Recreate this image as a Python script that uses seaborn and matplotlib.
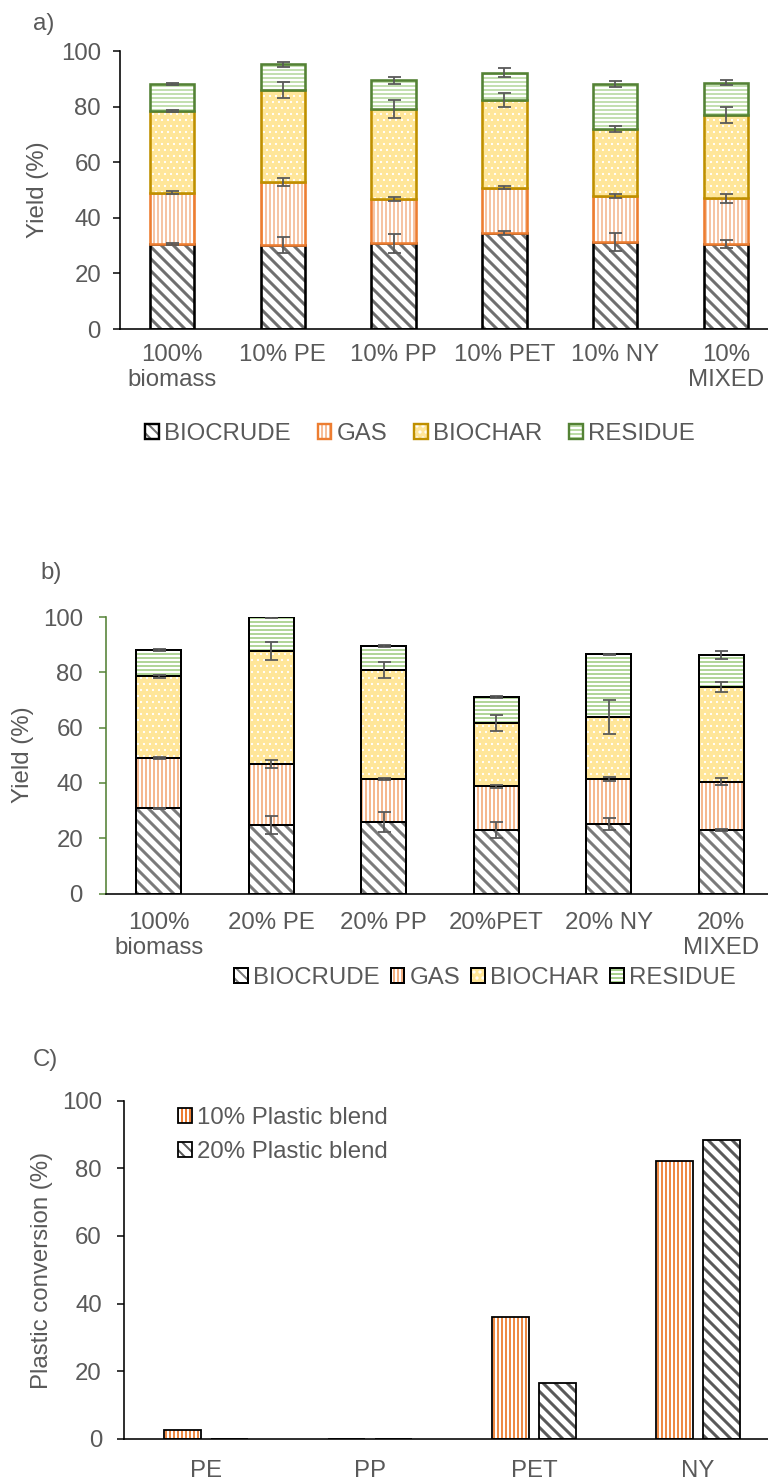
import matplotlib
matplotlib.use("Agg")
import matplotlib.pyplot as plt
import numpy as np
import pandas as pd
import seaborn as sns
from matplotlib.patches import Patch
from matplotlib.legend_handler import HandlerTuple

W, H, DPI = 768, 1481, 72
TXT = "#595959"
FS = 24

# ---------------- data ----------------
labels_10 = ["100%\nbiomass", "10% PE", "10% PP", "10% PET", "10% NY", "10%\nMIXED"]
labels_20 = ["100%\nbiomass", "20% PE", "20% PP", "20%PET", "20% NY", "20%\nMIXED"]
components = ["BIOCRUDE", "GAS", "BIOCHAR", "RESIDUE"]

# 10 % plastic blends: yield of each fraction (%)
biocrude_10 = [30.5, 30.2, 30.8, 34.6, 31.3, 30.5]
gas_10 = [18.5, 22.6, 16.1, 16.2, 16.5, 16.5]
biochar_10 = [29.4, 33.2, 32.3, 31.5, 24.3, 30.0]
residue_10 = [9.8, 9.3, 10.2, 9.9, 15.9, 11.6]
biocrude_10_err = [0.3, 3.0, 3.4, 0.8, 3.1, 1.4]
gas_10_err = [0.5, 1.4, 0.7, 0.6, 0.6, 1.5]
biochar_10_err = [0.5, 2.8, 3.2, 2.6, 1.1, 2.8]
residue_10_err = [0.3, 0.9, 1.3, 1.6, 1.1, 0.8]

# 20 % plastic blends
biocrude_20 = [30.8, 24.8, 25.9, 23.0, 25.2, 23.0]
gas_20 = [18.2, 22.0, 15.6, 15.8, 16.2, 17.5]
biochar_20 = [29.5, 40.9, 39.3, 22.9, 22.5, 34.2]
residue_20 = [9.6, 12.3, 8.7, 9.5, 22.6, 11.5]
biocrude_20_err = [0.3, 3.4, 3.6, 2.8, 2.3, 0.2]
gas_20_err = [0.4, 1.5, 0.3, 0.6, 0.6, 1.4]
biochar_20_err = [0.4, 3.1, 2.8, 2.9, 6.1, 1.7]
residue_20_err = [0.3, 0.2, 0.4, 0.4, 0.3, 1.4]

# plastic conversion (%)
plastics = ["PE", "PP", "PET", "NY"]
blends = ["10% Plastic blend", "20% Plastic blend"]
conv_10 = [2.7, 0.0, 36.0, 82.1]
conv_20 = [0.0, 0.0, 16.4, 88.5]

# ---------------- style ----------------
sns.set_theme(style="white")
plt.rcParams["font.family"] = ["Liberation Sans", "DejaVu Sans"]
plt.rcParams["hatch.linewidth"] = 2.0

DIAG = "\\\\"
styles_a = [
    dict(face="white", hatch=DIAG, hcolor="#6F6F6F", hlw=3.0, edge="black"),
    dict(face="white", hatch="|||", hcolor="#F6BE9A", hlw=1.8, edge="#ED7D31"),
    dict(face="#FFE699", hatch="..", hcolor="white", hlw=1.0, edge="#BF9000"),
    dict(face="white", hatch="---", hcolor="#BDDCA8", hlw=1.8, edge="#548235"),
]
styles_b = [
    dict(face="white", hatch=DIAG, hcolor="#7A7A7A", hlw=3.0, edge="black"),
    dict(face="white", hatch="|||", hcolor="#F4B183", hlw=1.8, edge="black"),
    dict(face="#FFE699", hatch="..", hcolor="white", hlw=1.0, edge="black"),
    dict(face="white", hatch="---", hcolor="#A9D18E", hlw=1.8, edge="black"),
]


def hatch_fill(p, st):
    p.set_facecolor(st["face"])
    p.set_edgecolor(st["hcolor"])
    p.set_linewidth(0)
    p.set_hatch(st["hatch"])
    if hasattr(p, "set_hatch_linewidth"):
        p.set_hatch_linewidth(st["hlw"])


def px_axes(fig, left, right, y0, y100):
    return fig.add_axes([left / W, 1 - y0 / H, (right - left) / W, (y0 - y100) / H])


def stacked(ax, cats, comps, errs, styles, outline_lw):
    bottom = np.zeros(len(cats))
    tops = []
    for vals, st in zip(comps, styles):
        vals = np.asarray(vals, dtype=float)
        n0 = len(ax.patches)
        sns.barplot(x=cats, y=vals, order=cats, bottom=bottom, color=st["face"],
                    saturation=1, width=0.4, errorbar=None, ax=ax)
        for p in ax.patches[n0:]:
            hatch_fill(p, st)
        sns.barplot(x=cats, y=vals, order=cats, bottom=bottom, color=st["edge"],
                    saturation=1, fill=False, linewidth=outline_lw, width=0.4,
                    errorbar=None, ax=ax)
        bottom = bottom + vals
        tops.append(bottom.copy())
    for top, e in zip(tops, errs):
        ax.errorbar(np.arange(len(cats)), top, yerr=e, fmt="none", ecolor=TXT,
                    elinewidth=1.8, capsize=6.5, capthick=1.8, zorder=6)


def style_axes(ax, spine_color, ypad, xpad):
    ax.set_ylim(0, 100)
    ax.set_yticks(range(0, 101, 20))
    ax.set_xlabel("")
    ax.set_ylabel("")
    for s in ("top", "right"):
        ax.spines[s].set_visible(False)
    ax.spines["bottom"].set_color("black")
    ax.spines["bottom"].set_linewidth(1.6)
    ax.spines["left"].set_color(spine_color)
    ax.spines["left"].set_linewidth(1.6)
    ax.tick_params(axis="y", direction="out", length=7, width=1.5, color=spine_color,
                   labelsize=FS, labelcolor=TXT, pad=ypad, left=True)
    ax.tick_params(axis="x", length=0, labelsize=FS, labelcolor=TXT, pad=xpad)


def legend_handles(styles, lw):
    hs = []
    for st in styles:
        fill = Patch(facecolor=st["face"], edgecolor=st["hcolor"], hatch=st["hatch"], linewidth=0)
        if hasattr(fill, "set_hatch_linewidth"):
            fill.set_hatch_linewidth(st["hlw"])
        edge = Patch(facecolor="none", edgecolor=st["edge"], linewidth=lw)
        hs.append((fill, edge))
    return hs


def add_legend(handles, labels, anchor, loc, **kw):
    fig.legend(handles, labels, handler_map={tuple: HandlerTuple(ndivide=1, pad=0)},
               loc=loc, bbox_to_anchor=anchor, frameon=False, fontsize=FS,
               labelcolor=TXT, handlelength=0.58, handleheight=0.58,
               handletextpad=0.21, borderpad=0, borderaxespad=0, **kw)


fig = plt.figure(figsize=(W / DPI, H / DPI), dpi=DPI, facecolor="white")

# ---------------- a) 10 % blends ----------------
ax_a = px_axes(fig, 120, 778, 329, 51)
stacked(ax_a, labels_10,
        [biocrude_10, gas_10, biochar_10, residue_10],
        [biocrude_10_err, gas_10_err, biochar_10_err, residue_10_err],
        styles_a, 2.6)
style_axes(ax_a, "black", 12, 15)
fig.text(38 / W, 1 - 190 / H, "Yield (%)", rotation=90, ha="center", va="center",
         fontsize=FS, color=TXT)
fig.text(33 / W, 1 - 30 / H, "a)", ha="left", va="baseline", fontsize=FS, color=TXT)
add_legend(legend_handles(styles_a, 2.4), components, (420 / W, 1 - 434 / H), "center",
           ncol=4, columnspacing=1.12)

# ---------------- b) 20 % blends ----------------
ax_b = px_axes(fig, 106, 774, 893.6, 617)
stacked(ax_b, labels_20,
        [biocrude_20, gas_20, biochar_20, residue_20],
        [biocrude_20_err, gas_20_err, biochar_20_err, residue_20_err],
        styles_b, 2.0)
style_axes(ax_b, "#548235", 16, 18)
fig.text(23 / W, 1 - 755 / H, "Yield (%)", rotation=90, ha="center", va="center",
         fontsize=FS, color=TXT)
fig.text(40 / W, 1 - 579 / H, "b)", ha="left", va="baseline", fontsize=FS, color=TXT)
add_legend(legend_handles(styles_b, 2.0), components, (485 / W, 1 - 978 / H), "center",
           ncol=4, columnspacing=0.45)

# ---------------- C) plastic conversion ----------------
conv = pd.DataFrame({
    "plastic": plastics * 2,
    "blend": [blends[0]] * len(plastics) + [blends[1]] * len(plastics),
    "conversion": conv_10 + conv_20,
})
styles_c = [
    dict(face="white", hatch="|||", hcolor="#ED7D31", hlw=1.8, edge="black"),
    dict(face="white", hatch=DIAG, hcolor="#595959", hlw=3.0, edge="black"),
]
ax_c = px_axes(fig, 124, 780, 1438.7, 1100.7)
sns.barplot(data=conv, x="plastic", y="conversion", hue="blend", order=plastics,
            hue_order=blends, palette=["white", "white"], saturation=1, width=0.568,
            gap=0.2, errorbar=None, legend=False, ax=ax_c)
for cont, st in zip(ax_c.containers, styles_c):
    for p in cont:
        hatch_fill(p, st)
sns.barplot(data=conv, x="plastic", y="conversion", hue="blend", order=plastics,
            hue_order=blends, palette=["black", "black"], saturation=1, width=0.568,
            gap=0.2, fill=False, linewidth=1.8, errorbar=None, legend=False, ax=ax_c)
style_axes(ax_c, "black", 15, 21)
fig.text(42 / W, 1 - 1270 / H, "Plastic conversion (%)", rotation=90, ha="center",
         va="center", fontsize=FS, color=TXT)
fig.text(33 / W, 1 - 1066 / H, "C)", ha="left", va="baseline", fontsize=FS, color=TXT)
add_legend(legend_handles(styles_c, 1.8), blends, (178 / W, 1 - 1135 / H), "center left",
           ncol=1, labelspacing=0.52)

fig.savefig("out.png", dpi=DPI, facecolor="white")
